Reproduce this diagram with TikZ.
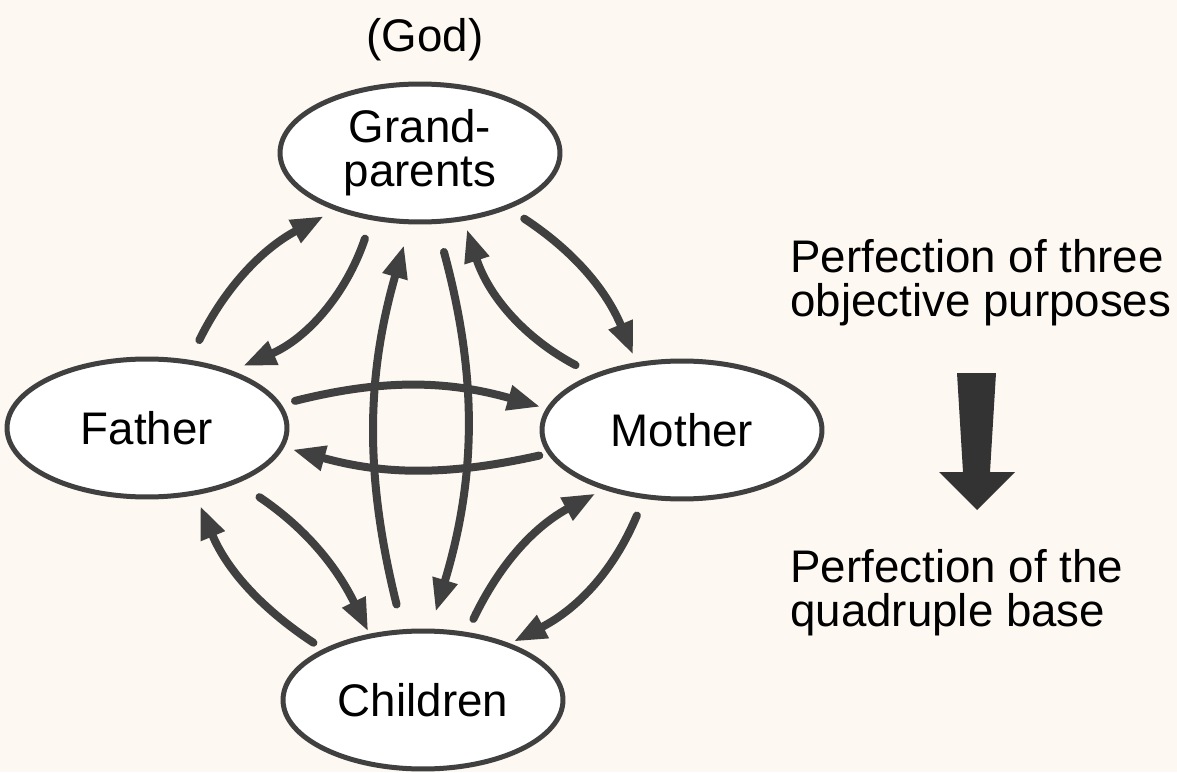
\documentclass[tikz,border=0pt]{standalone}
\usepackage{fontspec}
\setmainfont{Liberation Sans}
\usetikzlibrary{shapes.geometric, arrows.meta, positioning, calc}
\definecolor{bgColor}{RGB}{253,248,241}
\colorlet{drawColor}{black!75}
\colorlet{bigArrowColor}{black!80}
\tikzstyle{oval}=[ellipse, align=center, draw=drawColor, line width=0.1cm,
  fill=white, minimum width=5.6cm, minimum height=2.76cm, inner sep=0pt]
\tikzstyle{label}=[align=left, anchor=west, inner sep=0pt]
\tikzstyle{arrow}=[-{Triangle[length=0.66cm, width=0.48cm]}, line width=0.16cm,
  line cap=round, draw=drawColor]
\begin{document}
\begin{tikzpicture}[x=0.02cm, y=0.02cm,
    font=\fontsize{26pt}{25pt}\selectfont]
      \fill [bgColor] (0,0) rectangle (1177,772);
      \useasboundingbox (0,0) rectangle (1177,772);
      \node (god) at (425,732) {(God)};
      \node (grand) [oval] at (420,619) {Grand-\\parents};
      \node (father) [oval] at (147,344) {Father};
      \node (mother) [oval] at (682,342) {Mother};
      \node (children) [oval] at (423,72) {Children};
      % father and grandparents
      \draw [arrow, shorten <=0.44cm, shorten >=0.25cm] (father.58) to[bend left=18] (grand.214);
      \draw [arrow, shorten <=0.39cm, shorten >=0.24cm] (grand.234) to[bend left=24] (father.34);
      % children and grandparents
      \draw [arrow, shorten <=0.51cm, shorten >=0.43cm] (children.106) to[bend left=15] (grand.262);
      \draw [arrow, shorten <=0.58cm, shorten >=0.35cm] (grand.283) to[bend left=16] (children.84);
      % mother and grandparents
      \draw [arrow, shorten <=0.39cm, shorten >=0.17cm] (mother.148) to[bend left=22] (grand.303);
      \draw [arrow, shorten <=0.36cm, shorten >=0.16cm] (grand.328) to[bend left=17] (mother.124);
      % father and mother
      \draw [arrow, shorten <=0.28cm, shorten >=0.12cm] (father.10) to[bend left=15] (mother.171);
      \draw [arrow, shorten <=0.17cm, shorten >=0.17cm] (mother.190) to[bend left=14] (father.352);
      % children and father
      \draw [arrow, shorten <=0.23cm, shorten >=0.23cm] (children.153) to[bend left=17] (father.306);
      \draw [arrow, shorten <=0.51cm, shorten >=0.05cm] (father.329) to[bend left=15] (children.129);
      % children and mother
      \draw [arrow, shorten <=0.29cm, shorten >=0.17cm] (children.57) to[bend left=18] (mother.217);
      \draw [arrow, shorten <=0.36cm, shorten >=0.08cm] (mother.241) to[bend left=20] (children.33);
      \node (threePurposes) [label] at (790,489) {Perfection of three\\objective purposes};
      \node (quadrupleBase) [label] at (790,179) {Perfection of the\\quadruple base};
      \fill [bigArrowColor] (957,399) -- (996,399) -- (990,300) -- (1015,300)
        -- (977,262) -- (939,300) -- (963,300) -- cycle;
    \end{tikzpicture}
\end{document}
